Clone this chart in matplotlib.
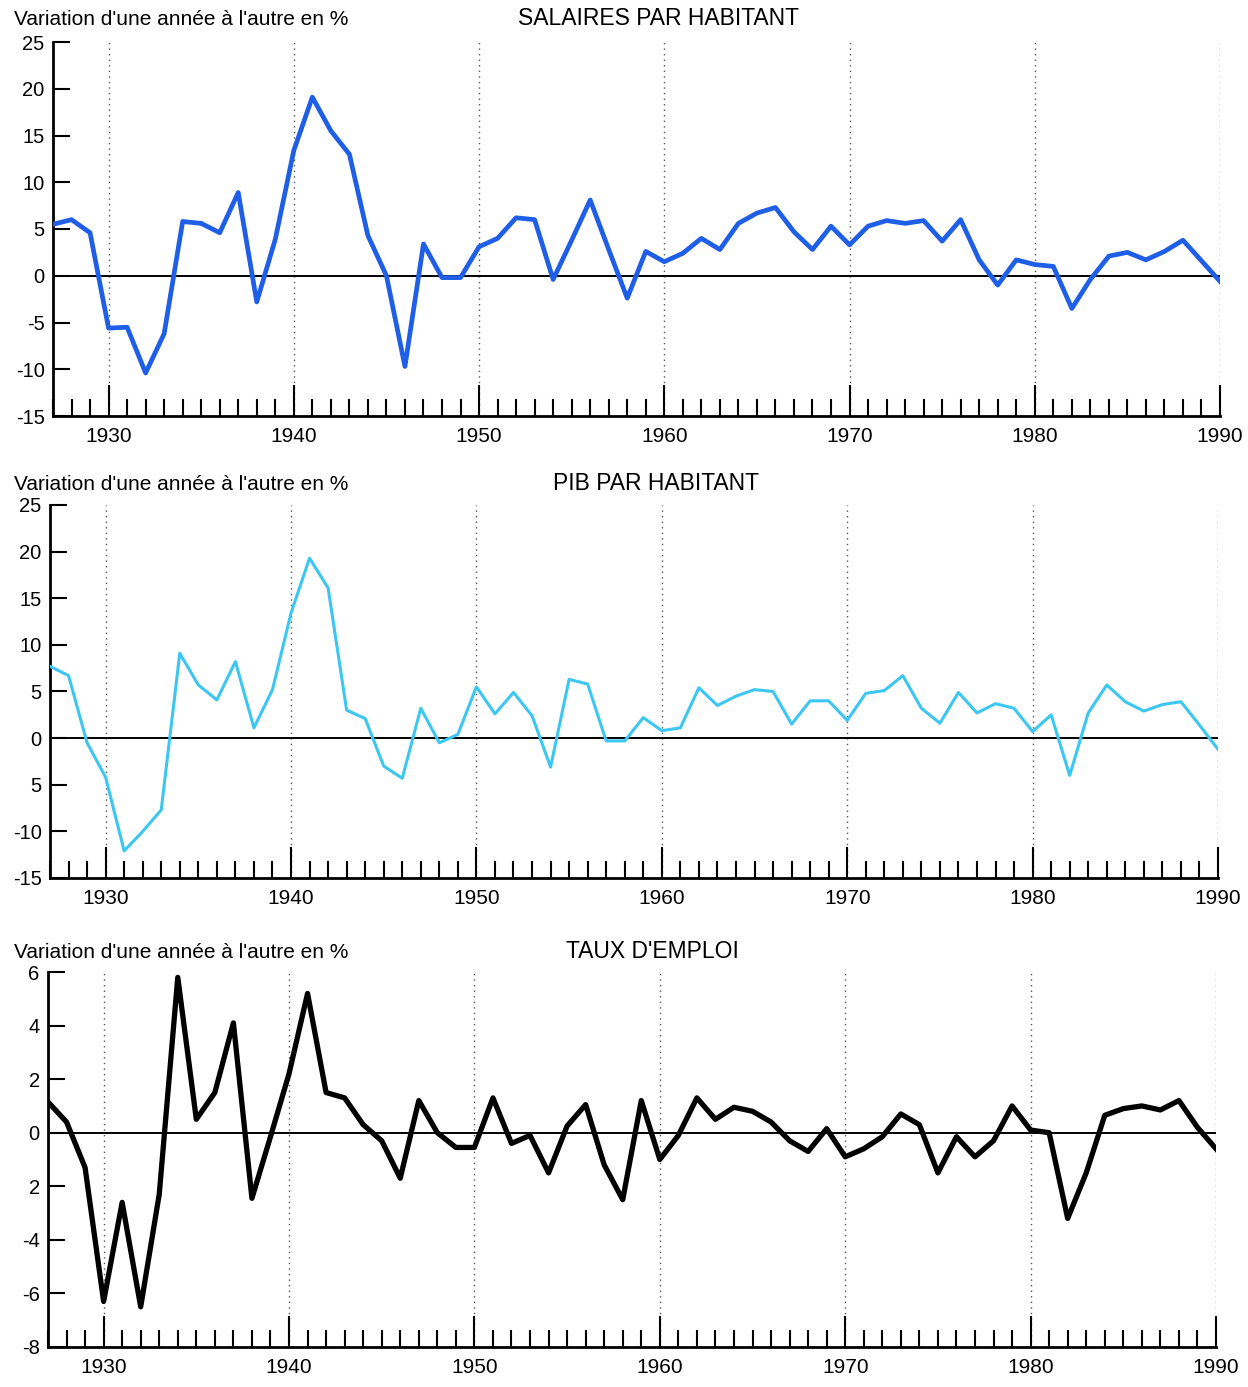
import matplotlib.pyplot as plt
from matplotlib.ticker import MultipleLocator

plt.rcParams['font.family'] = ['Liberation Sans', 'DejaVu Sans']

years = list(range(1927, 1991))

salaires = [5.5, 6.0, 4.6, -5.6, -5.5, -10.4, -6.2, 5.8, 5.6, 4.6,
            8.9, -2.8, 3.9, 13.4, 19.1, 15.5, 13.0, 4.3, 0.0, -9.7,
            3.4, -0.2, -0.2, 3.1, 4.0, 6.2, 6.0, -0.4, 3.8, 8.1,
            2.8, -2.4, 2.6, 1.5, 2.4, 4.0, 2.8, 5.6, 6.7, 7.3,
            4.7, 2.8, 5.3, 3.3, 5.3, 5.9, 5.6, 5.9, 3.7, 6.0,
            1.7, -1.0, 1.7, 1.2, 1.0, -3.5, -0.4, 2.1, 2.5, 1.7,
            2.6, 3.8, 1.6, -0.6]

pib = [7.7, 6.7, -0.5, -4.2, -12.1, -10.0, -7.7, 9.1, 5.7, 4.1,
       8.2, 1.1, 5.2, 13.4, 19.3, 16.1, 3.0, 2.1, -3.0, -4.3,
       3.2, -0.5, 0.4, 5.5, 2.6, 4.9, 2.4, -3.1, 6.3, 5.8,
       -0.3, -0.3, 2.2, 0.8, 1.1, 5.4, 3.5, 4.5, 5.2, 5.0,
       1.5, 4.0, 4.0, 1.9, 4.8, 5.1, 6.7, 3.2, 1.6, 4.9,
       2.7, 3.7, 3.2, 0.7, 2.5, -4.0, 2.7, 5.7, 3.9, 2.9,
       3.6, 3.9, 1.4, -1.2]

emploi = [1.15, 0.4, -1.3, -6.3, -2.6, -6.5, -2.3, 5.8, 0.5, 1.5,
          4.1, -2.45, -0.15, 2.2, 5.2, 1.5, 1.3, 0.3, -0.3, -1.7,
          1.2, 0.0, -0.55, -0.55, 1.3, -0.4, -0.1, -1.5, 0.25, 1.05,
          -1.2, -2.5, 1.2, -1.0, -0.1, 1.3, 0.5, 0.95, 0.8, 0.4,
          -0.3, -0.7, 0.15, -0.9, -0.6, -0.15, 0.7, 0.3, -1.5, -0.15,
          -0.9, -0.3, 1.0, 0.1, 0.0, -3.2, -1.5, 0.65, 0.9, 1.0,
          0.85, 1.2, 0.2, -0.6]

decades = [1930, 1940, 1950, 1960, 1970, 1980, 1990]
subtitle = "Variation d'une année à l'autre en %"

fig = plt.figure(figsize=(12.48, 13.87), dpi=100)


def panel(rect, values, color, lw, title, ylim, yticks, ylabels, text_y, title_x):
    ax = fig.add_axes(rect)
    for d in decades:
        ax.axvline(d, color='#555555', lw=1.0, ls=(0, (1, 3)), zorder=1)
    ax.axhline(0, color='black', lw=1.4, zorder=2)
    ax.plot(years, values, color=color, lw=lw, solid_joinstyle='round', zorder=3)
    ax.set_xlim(1927, 1990)
    ax.set_ylim(*ylim)
    ax.spines['top'].set_visible(False)
    ax.spines['right'].set_visible(False)
    ax.spines['left'].set_linewidth(2)
    ax.spines['bottom'].set_linewidth(2)
    ax.set_xticks(decades)
    ax.set_xticklabels([str(d) for d in decades])
    ax.xaxis.set_minor_locator(MultipleLocator(1))
    ax.tick_params(axis='x', which='major', direction='in', length=22, width=1.5,
                   labelsize=15, pad=8)
    ax.tick_params(axis='x', which='minor', direction='in', length=12, width=1.5)
    ax.set_yticks(yticks)
    ax.set_yticklabels(ylabels)
    ax.tick_params(axis='y', direction='in', length=12, width=1.5, labelsize=14.5, pad=6)
    fig.text(14 / 1248, text_y, subtitle, fontsize=15, va='baseline', ha='left')
    fig.text(title_x, text_y, title, fontsize=16.5, va='baseline', ha='center')
    return ax


panel([53 / 1248, 1 - 416 / 1387, 1167 / 1248, 374 / 1387], salaires, '#1f5ee6', 3.4,
      'SALAIRES PAR HABITANT', (-15, 25), [-15, -10, -5, 0, 5, 10, 15, 20, 25],
      ['-15', '-10', '-5', '0', '5', '10', '15', '20', '25'], 1 - 25 / 1387, 658 / 1248)

panel([50 / 1248, 1 - 878 / 1387, 1168 / 1248, 373 / 1387], pib, '#3cc6f2', 2.2,
      'PIB PAR HABITANT', (-15, 25), [-15, -10, -5, 0, 5, 10, 15, 20, 25],
      ['-15', '-10', '5', '0', '5', '10', '15', '20', '25'], 1 - 490 / 1387, 656 / 1248)

panel([48 / 1248, 1 - 1347 / 1387, 1168 / 1248, 375 / 1387], emploi, 'black', 3.8,
      "TAUX D'EMPLOI", (-8, 6), [-8, -6, -4, -2, 0, 2, 4, 6],
      ['-8', '-6', '-4', '2', '0', '2', '4', '6'], 1 - 958 / 1387, 652 / 1248)

fig.savefig('out.png', dpi=100)
